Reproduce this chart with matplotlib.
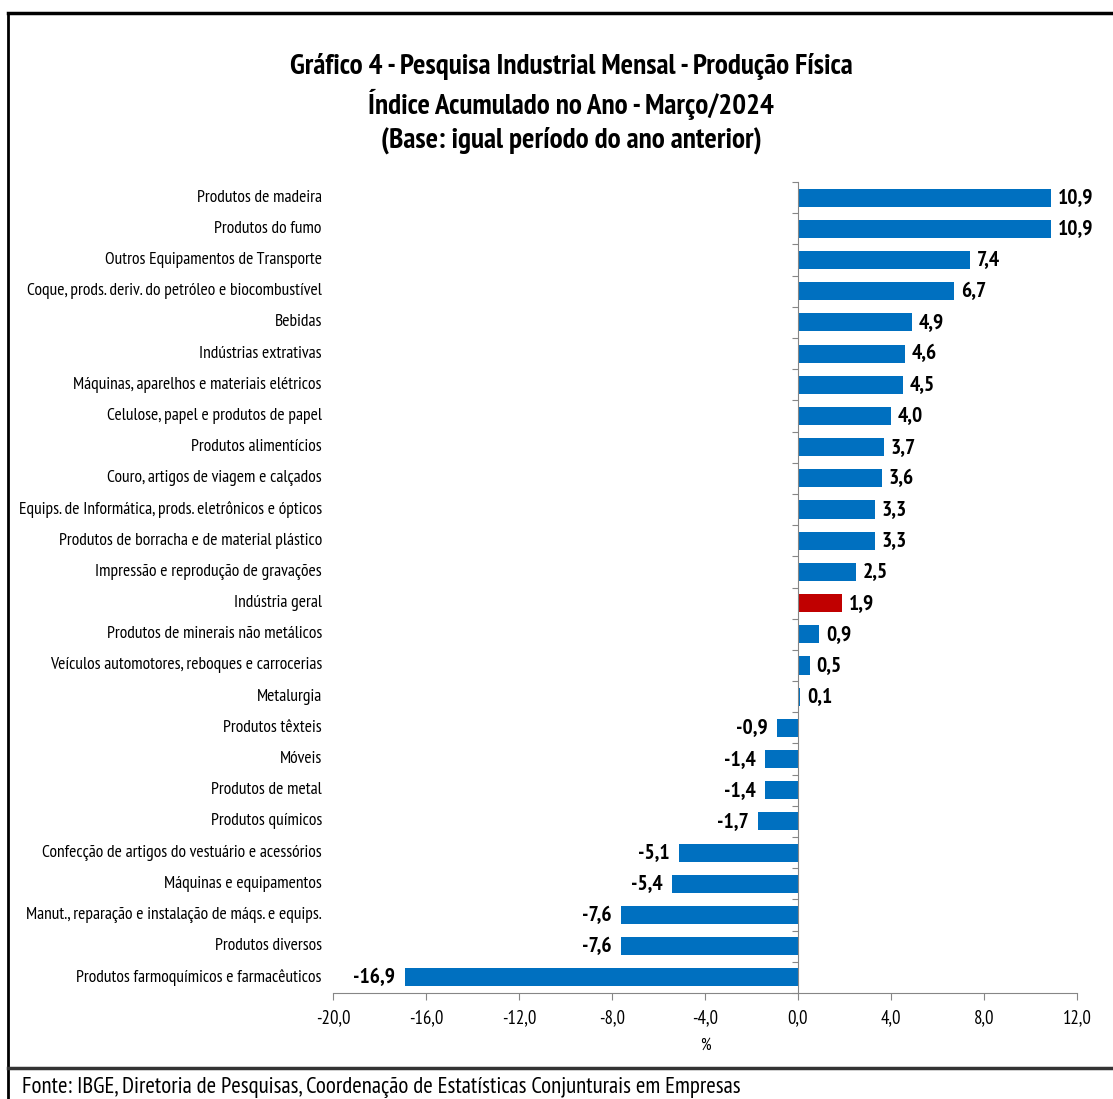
import matplotlib
matplotlib.use("Agg")
import matplotlib.pyplot as plt
import matplotlib.transforms as mtransforms
from matplotlib.lines import Line2D

plt.rcParams['font.family'] = ['PT Sans Narrow', 'DejaVu Sans']

# data (top to bottom)
categorias = [
    "Produtos de madeira",
    "Produtos do fumo",
    "Outros Equipamentos de Transporte",
    "Coque, prods. deriv. do petróleo e biocombustível",
    "Bebidas",
    "Indústrias extrativas",
    "Máquinas, aparelhos e materiais elétricos",
    "Celulose, papel e produtos de papel",
    "Produtos alimentícios",
    "Couro, artigos de viagem e calçados",
    "Equips. de Informática, prods. eletrônicos e ópticos",
    "Produtos de borracha e de material plástico",
    "Impressão e reprodução de gravações",
    "Indústria geral",
    "Produtos de minerais não metálicos",
    "Veículos automotores, reboques e carrocerias",
    "Metalurgia",
    "Produtos têxteis",
    "Móveis",
    "Produtos de metal",
    "Produtos químicos",
    "Confecção de artigos do vestuário e acessórios",
    "Máquinas e equipamentos",
    "Manut., reparação e instalação de máqs. e equips.",
    "Produtos diversos",
    "Produtos farmoquímicos e farmacêuticos",
]
valores = [10.9, 10.9, 7.4, 6.7, 4.9, 4.6, 4.5, 4.0, 3.7, 3.6, 3.3, 3.3, 2.5,
           1.9, 0.9, 0.5, 0.1, -0.9, -1.4, -1.4, -1.7, -5.1, -5.4, -7.6, -7.6,
           -16.9]
destaque = "Indústria geral"
xticks = [-20, -16, -12, -8, -4, 0, 4, 8, 12]

W, H = 1113, 1099
fig = plt.figure(figsize=(W / 100, H / 100), dpi=100)
ax = fig.add_axes([333 / W, 1 - 993 / H, 744 / W, 811 / H])

n = len(categorias)
ypos = list(range(n))
cores = ["#C00000" if c == destaque else "#0070C0" for c in categorias]
ax.barh(ypos, valores, height=0.58, color=cores, zorder=2)
ax.set_ylim(n - 0.5, -0.5)
ax.set_xlim(-20, 12)

# value labels
for y, v in zip(ypos, valores):
    txt = ("%.1f" % v).replace(".", ",")
    if v >= 0:
        ax.annotate(txt, (v, y), xytext=(5, 0), textcoords="offset points",
                    ha="left", va="center", fontsize=15.5, fontweight="bold")
    else:
        ax.annotate(txt, (v, y), xytext=(-7, 0), textcoords="offset points",
                    ha="right", va="center", fontsize=15.5, fontweight="bold")

# category labels at left of axes
trans = mtransforms.blended_transform_factory(ax.transAxes, ax.transData)
for y, c in zip(ypos, categorias):
    ax.text(-0.015, y, c, transform=trans, ha="right", va="center",
            fontsize=12.6)

# spines
for s in ["top", "right"]:
    ax.spines[s].set_visible(False)
ax.spines["left"].set_position(("data", 0))
ax.spines["left"].set_color("#868686")
ax.spines["bottom"].set_color("#868686")
ax.set_yticks([i - 0.5 for i in range(n + 1)])
ax.set_yticklabels([])
ax.tick_params(axis="y", length=4, color="#868686", direction="out")
ax.set_xticks(xticks)
ax.set_xticklabels([("%.1f" % t).replace(".", ",") for t in xticks],
                   fontsize=13.5)
ax.tick_params(axis="x", length=5, color="#868686", pad=7)
ax.set_xlabel("%", fontsize=12, labelpad=7)

# titles
tx = 571 / W
fig.text(tx, 1 - 66 / H, "Gráfico 4 - Pesquisa Industrial Mensal - Produção Física",
         ha="center", va="center", fontsize=21, fontweight="bold")
fig.text(tx, 1 - 104 / H, "Índice Acumulado no Ano - Março/2024",
         ha="center", va="center", fontsize=21, fontweight="bold")
fig.text(tx, 1 - 140 / H, "(Base: igual período do ano anterior)",
         ha="center", va="center", fontsize=21, fontweight="bold")

# footer
fig.text(22 / W, 1 - 1088 / H,
         "Fonte: IBGE, Diretoria de Pesquisas, Coordenação de Estatísticas Conjunturais em Empresas",
         ha="left", va="center", fontsize=16.5)

# frame
fig.add_artist(Line2D([8 / W, 1], [1 - 13 / H, 1 - 13 / H], color="black", lw=2.5,
                      transform=fig.transFigure))
fig.add_artist(Line2D([8 / W, 8 / W], [1 - 13 / H, 0], color="black", lw=2,
                      transform=fig.transFigure))
fig.add_artist(Line2D([8 / W, 1], [1 - 1068 / H, 1 - 1068 / H], color="#333333", lw=2.5,
                      transform=fig.transFigure))

fig.savefig("out.png", dpi=100)
